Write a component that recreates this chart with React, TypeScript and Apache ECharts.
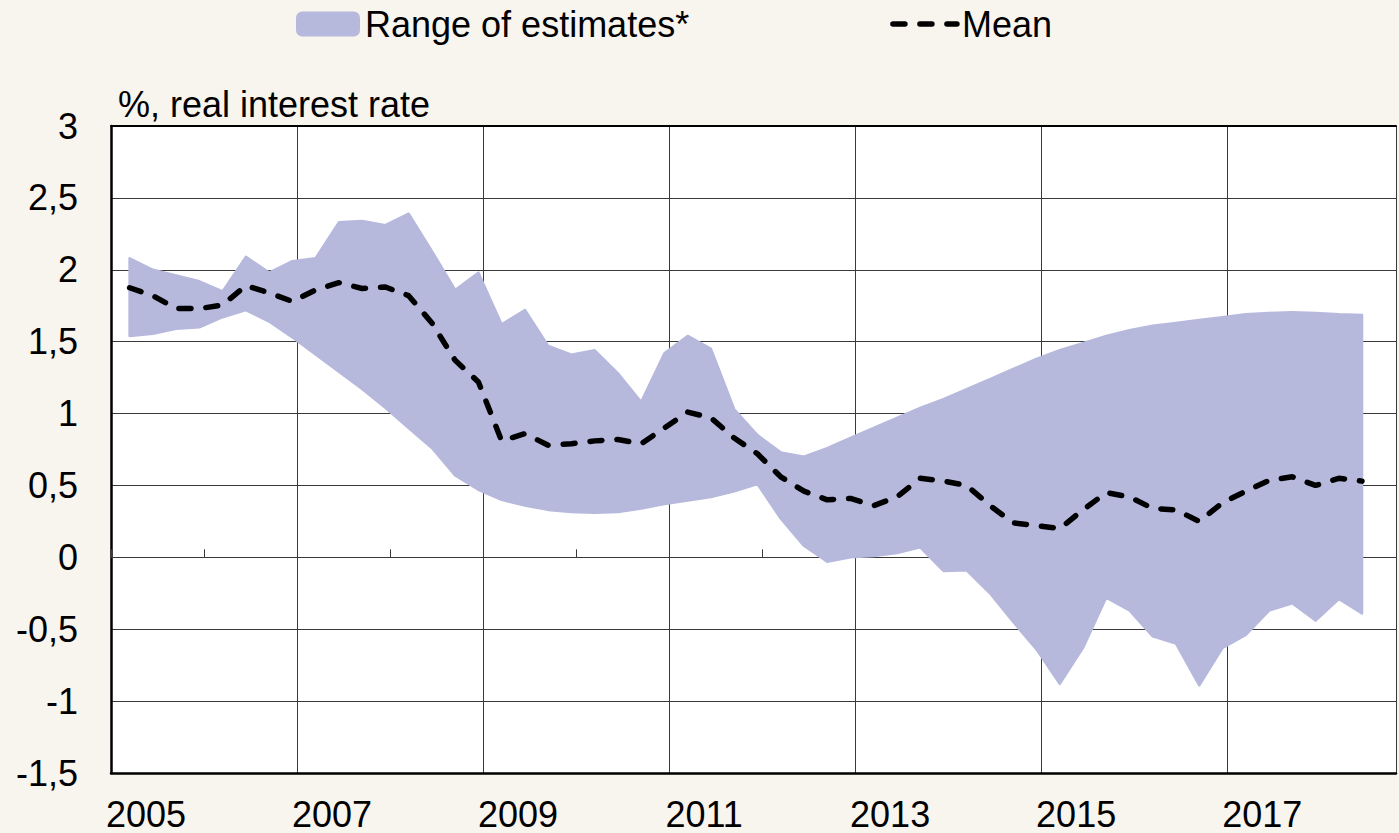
import React, { useEffect, useRef } from 'react';
import * as echarts from 'echarts';

// Quarterly observations, 2005Q1 .. 2018Q2
const quarterLabels: string[] = [];
for (let y = 2005; y <= 2018; y++) {
  for (let q = 1; q <= 4; q++) {
    if (y === 2018 && q > 2) break;
    quarterLabels.push(`${y}Q${q}`);
  }
}

// Upper bound of the range of estimates (%)
const upperBound = [
  2.08, 2.0, 1.96, 1.92, 1.85, 2.09, 1.98, 2.06, 2.08, 2.33,
  2.34, 2.31, 2.39, 2.13, 1.86, 1.98, 1.62, 1.72, 1.47, 1.41,
  1.44, 1.28, 1.08, 1.42, 1.54, 1.45, 1.03, 0.85, 0.73, 0.7,
  0.76, 0.83, 0.9, 0.97, 1.04, 1.1, 1.17, 1.24, 1.31, 1.38,
  1.44, 1.49, 1.54, 1.58, 1.61, 1.63, 1.65, 1.67, 1.69, 1.7,
  1.705, 1.7, 1.69, 1.685,
];

// Lower bound of the range of estimates (%)
const lowerBound = [
  1.54, 1.555, 1.59, 1.6, 1.67, 1.72, 1.64, 1.53, 1.41, 1.29,
  1.17, 1.04, 0.9, 0.76, 0.57, 0.47, 0.4, 0.36, 0.33, 0.315,
  0.31, 0.315, 0.34, 0.37, 0.395, 0.42, 0.46, 0.51, 0.27, 0.08,
  -0.03, 0.0, 0.01, 0.03, 0.07, -0.095, -0.09, -0.25, -0.45, -0.64,
  -0.88, -0.63, -0.28, -0.37, -0.55, -0.6, -0.89, -0.63, -0.54, -0.37,
  -0.32, -0.44, -0.29, -0.39,
];

// Mean of estimates (%)
const meanValues = [
  1.875, 1.82, 1.73, 1.73, 1.755, 1.89, 1.84, 1.78, 1.86, 1.91,
  1.87, 1.88, 1.82, 1.63, 1.37, 1.22, 0.81, 0.86, 0.78, 0.79,
  0.81, 0.82, 0.79, 0.9, 1.01, 0.97, 0.83, 0.72, 0.56, 0.46,
  0.4, 0.41, 0.36, 0.42, 0.55, 0.53, 0.5, 0.36, 0.24, 0.22,
  0.2, 0.33, 0.45, 0.42, 0.34, 0.33, 0.25, 0.38, 0.46, 0.535,
  0.56, 0.5, 0.55, 0.53,
];

const RANGE_NAME = 'Range of estimates*';
const MEAN_NAME = 'Mean';
const Y_TITLE = '%, real interest rate';

const X_MIN = 2005;
const X_MAX = 2018.815;
const Y_MIN = -1.5;
const Y_MAX = 3;

const BAND = '#b6b8dc';
const BG = '#f8f4ee';
const GRID = '#3a3a3a';
const FONT = '"Liberation Sans", Arial, sans-serif';
const MEAN_LINE = { color: '#000', width: 5.5, type: [12, 15], cap: 'round' };

// position of each quarterly observation on the year axis
const quarterPos = (label: string) => {
  const y = parseInt(label.slice(0, 4), 10);
  const q = parseInt(label.slice(5), 10);
  return y + (q - 1) * 0.25 + 0.2;
};

export default function App() {
  const ref = useRef<HTMLDivElement>(null);

  useEffect(() => {
    if (!ref.current) return;
    const chart = echarts.init(ref.current, null, { renderer: 'svg' });
    const xs = quarterLabels.map(quarterPos);
    const bandData = xs.map((t, i) => [t, lowerBound[i], upperBound[i]]);
    const meanData = xs.map((t, i) => [t, meanValues[i]]);

    const option: any = {
      animation: false,
      backgroundColor: BG,
      textStyle: { fontFamily: FONT },
      grid: {
        left: 111,
        top: 126,
        right: 0,
        bottom: 60,
        show: true,
        backgroundColor: '#ffffff',
        borderWidth: 0,
        containLabel: false,
      },
      legend: {
        left: 291,
        top: 1,
        itemWidth: 64,
        itemHeight: 25,
        itemGap: 201,
        textStyle: { fontSize: 36, color: '#000', fontFamily: FONT },
        data: [
          { name: RANGE_NAME, icon: 'roundRect', itemStyle: { color: BAND, borderWidth: 0 } },
          {
            name: MEAN_NAME,
            itemStyle: { color: 'rgba(0,0,0,0)', borderWidth: 0, opacity: 0 },
            lineStyle: MEAN_LINE,
          },
        ],
      },
      graphic: [
        {
          type: 'text',
          left: 118,
          top: 86,
          style: { text: Y_TITLE, fontSize: 36, fill: '#000', fontFamily: FONT },
        },
      ],
      xAxis: [
        {
          // year ticks on the zero line
          type: 'value',
          min: X_MIN,
          max: X_MAX,
          interval: 1,
          position: 'bottom',
          axisLine: { onZero: true, lineStyle: { color: GRID, width: 1 } },
          axisTick: { show: true, inside: true, length: 8, lineStyle: { color: GRID, width: 1 } },
          axisLabel: { show: false },
          splitLine: { show: false },
        },
        {
          // bottom axis with labels and 2-year grid lines
          type: 'value',
          min: X_MIN,
          max: X_MAX,
          interval: 2,
          position: 'bottom',
          axisLine: { onZero: false, show: true, lineStyle: { color: '#000', width: 2.5 } },
          axisTick: { show: false },
          axisLabel: {
            show: true,
            fontSize: 36,
            color: '#000',
            fontFamily: FONT,
            margin: 23,
            padding: [0, 0, 0, 70],
            formatter: (v: number) => {
              const r = Math.round(v);
              return Math.abs(v - r) < 1e-6 && r % 2 === 1 ? String(r) : '';
            },
          },
          splitLine: { show: true, lineStyle: { color: GRID, width: 1 } },
        },
        {
          // top border
          type: 'value',
          min: X_MIN,
          max: X_MAX,
          position: 'top',
          axisLine: { onZero: false, show: true, lineStyle: { color: '#000', width: 2 } },
          axisTick: { show: false },
          axisLabel: { show: false },
          splitLine: { show: false },
        },
      ],
      yAxis: {
        type: 'value',
        min: Y_MIN,
        max: Y_MAX,
        interval: 0.5,
        axisLine: { show: true, onZero: false, lineStyle: { color: '#000', width: 2.5 } },
        axisTick: { show: false },
        axisLabel: {
          fontSize: 36,
          color: '#000',
          fontFamily: FONT,
          margin: 33,
          formatter: (v: number) => String(v).replace('.', ','),
        },
        splitLine: { show: true, lineStyle: { color: GRID, width: 1 } },
      },
      series: [
        {
          name: RANGE_NAME,
          type: 'custom',
          xAxisIndex: 1,
          data: bandData,
          encode: { x: 0, y: [1, 2] },
          itemStyle: { color: BAND },
          clip: true,
          z: 2,
          silent: true,
          renderItem: (params: any, api: any) => {
            if (params.dataIndex !== 0) return null;
            const pts: number[][] = [];
            for (let i = 0; i < bandData.length; i++) {
              pts.push(api.coord([bandData[i][0], bandData[i][2]]));
            }
            for (let i = bandData.length - 1; i >= 0; i--) {
              pts.push(api.coord([bandData[i][0], bandData[i][1]]));
            }
            return {
              type: 'polygon',
              shape: { points: pts },
              style: { fill: BAND, stroke: BAND, lineWidth: 2.5, lineJoin: 'round' },
            };
          },
        },
        {
          name: MEAN_NAME,
          type: 'line',
          xAxisIndex: 1,
          data: meanData,
          symbol: 'none',
          lineStyle: MEAN_LINE,
          itemStyle: { color: '#000' },
          z: 3,
          silent: true,
        },
      ],
    };

    chart.setOption(option);
    return () => chart.dispose();
  }, []);

  return (
    <div
      ref={ref}
      style={{ position: 'fixed', left: 0, top: 0, width: 1399, height: 833 }}
    />
  );
}
